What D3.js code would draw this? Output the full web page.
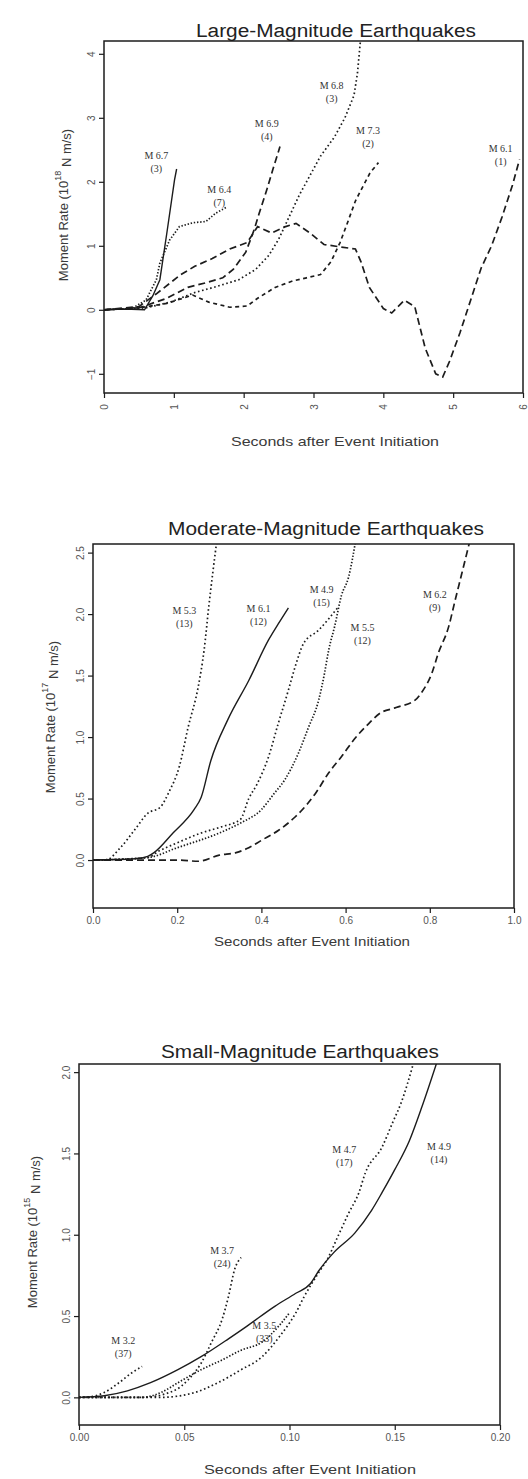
<!DOCTYPE html>
<html>
<head>
<meta charset="utf-8">
<script src="https://cdn.jsdelivr.net/npm/d3@7"></script>
<style>
  body { margin: 0; background: #fff; }
  svg { display: block; }
</style>
</head>
<body>
<svg id="chart" width="528" height="1479"></svg>
<script>
// ---- large-magnitude events (s, 10^18 N m/s)
var large_m67 = [[0,0],[0.3,0.01],[0.58,0.0],[0.7,0.22],[0.8,0.47],[0.9,1.2],[1.01,2.03],[1.04,2.2]];
var large_m64 = [[0,0],[0.4,0.02],[0.6,0.15],[0.75,0.47],[0.8,0.73],[0.94,1.09],[1.08,1.3],[1.27,1.36],[1.46,1.38],[1.6,1.51],[1.75,1.6]];
var large_m69 = [[0,0],[0.5,0.03],[0.9,0.18],[1.2,0.35],[1.45,0.42],[1.7,0.5],[1.85,0.63],[2.03,0.9],[2.15,1.25],[2.22,1.5],[2.33,1.87],[2.42,2.2],[2.52,2.55]];
var large_m68 = [[0,0],[0.6,0.03],[0.95,0.12],[1.3,0.27],[1.6,0.36],[1.93,0.47],[2.17,0.63],[2.36,0.85],[2.5,1.1],[2.65,1.45],[2.8,1.8],[2.95,2.1],[3.1,2.4],[3.3,2.7],[3.45,3.0],[3.58,3.35],[3.63,3.7],[3.68,4.3]];
var large_m73 = [[0,0],[0.5,0.03],[0.9,0.1],[1.27,0.23],[1.5,0.12],[1.8,0.04],[2.05,0.06],[2.2,0.18],[2.45,0.35],[2.7,0.45],[2.9,0.5],[3.1,0.55],[3.25,0.75],[3.38,1.05],[3.5,1.4],[3.6,1.7],[3.68,1.87],[3.81,2.14],[3.93,2.3]];
var large_m61 = [[0,0],[0.5,0.05],[0.75,0.25],[1.1,0.55],[1.3,0.68],[1.55,0.8],[1.8,0.95],[2.05,1.05],[2.2,1.3],[2.4,1.2],[2.6,1.3],[2.75,1.35],[2.95,1.2],[3.15,1.02],[3.4,0.98],[3.6,0.95],[3.68,0.75],[3.8,0.35],[4.0,0.02],[4.12,-0.05],[4.3,0.15],[4.45,0.05],[4.6,-0.6],[4.75,-1.0],[4.85,-1.05],[4.95,-0.8],[5.1,-0.35],[5.25,0.15],[5.4,0.65],[5.55,1.0],[5.7,1.45],[5.85,1.95],[5.95,2.35]];
var large_names = ["M 6.7", "M 6.4", "M 6.9", "M 6.8", "M 7.3", "M 6.1"];
var large_counts = ["(3)", "(7)", "(4)", "(3)", "(2)", "(1)"];
var large_xticks = [0, 1, 2, 3, 4, 5, 6];
var large_yticks = [-1, 0, 1, 2, 3, 4];

// ---- moderate-magnitude events (s, 10^17 N m/s)
var mod_m53 = [[0,0],[0.03,0.0],[0.065,0.1],[0.1,0.25],[0.13,0.38],[0.16,0.43],[0.18,0.55],[0.205,0.76],[0.226,1.08],[0.25,1.41],[0.264,1.71],[0.275,2.06],[0.285,2.35],[0.295,2.62]];
var mod_m61 = [[0,0],[0.1,0.01],[0.13,0.03],[0.145,0.06],[0.19,0.22],[0.24,0.41],[0.257,0.51],[0.28,0.81],[0.32,1.14],[0.37,1.46],[0.417,1.79],[0.44,1.92],[0.464,2.05]];
var mod_m49 = [[0,0],[0.13,0.02],[0.155,0.07],[0.2,0.14],[0.257,0.22],[0.305,0.27],[0.35,0.33],[0.37,0.5],[0.39,0.62],[0.417,0.84],[0.44,1.11],[0.464,1.38],[0.48,1.57],[0.5,1.76],[0.536,1.87],[0.583,2.06]];
var mod_m55 = [[0,0],[0.13,0.02],[0.2,0.1],[0.3,0.22],[0.35,0.3],[0.4,0.41],[0.43,0.54],[0.455,0.65],[0.488,0.87],[0.512,1.08],[0.536,1.3],[0.55,1.52],[0.56,1.71],[0.574,1.9],[0.59,2.15],[0.607,2.3],[0.625,2.62]];
var mod_m62 = [[0,0],[0.2,0.0],[0.25,-0.01],[0.3,0.04],[0.34,0.06],[0.37,0.1],[0.4,0.16],[0.44,0.24],[0.48,0.35],[0.51,0.46],[0.53,0.55],[0.56,0.71],[0.59,0.84],[0.62,0.98],[0.655,1.11],[0.68,1.19],[0.72,1.24],[0.765,1.3],[0.78,1.36],[0.805,1.52],[0.82,1.68],[0.845,1.9],[0.86,2.11],[0.876,2.33],[0.897,2.62]];
var mod_names = ["M 5.3", "M 6.1", "M 4.9", "M 5.5", "M 6.2"];
var mod_counts = ["(13)", "(12)", "(15)", "(12)", "(9)"];
var mod_xticks = [0, 0.2, 0.4, 0.6, 0.8, 1.0];
var mod_yticks = [0, 0.5, 1.0, 1.5, 2.0, 2.5];

// ---- small-magnitude events (s, 10^15 N m/s)
var small_m49 = [[0,0],[0.012,0.01],[0.023,0.04],[0.034,0.09],[0.047,0.17],[0.058,0.25],[0.071,0.36],[0.08,0.44],[0.093,0.56],[0.103,0.64],[0.11,0.7],[0.114,0.78],[0.121,0.89],[0.131,1.01],[0.139,1.15],[0.144,1.26],[0.15,1.4],[0.157,1.58],[0.163,1.79],[0.17,2.06]];
var small_m47 = [[0,0],[0.039,0.0],[0.055,0.03],[0.066,0.09],[0.077,0.17],[0.087,0.25],[0.095,0.37],[0.103,0.52],[0.107,0.62],[0.114,0.77],[0.118,0.85],[0.123,0.99],[0.128,1.13],[0.133,1.26],[0.136,1.38],[0.144,1.54],[0.149,1.69],[0.153,1.81],[0.159,2.06]];
var small_m37 = [[0,0],[0.03,0.0],[0.045,0.04],[0.052,0.11],[0.058,0.21],[0.063,0.34],[0.068,0.48],[0.071,0.62],[0.074,0.79],[0.077,0.86]];
var small_m35 = [[0,0],[0.03,0.0],[0.039,0.03],[0.047,0.09],[0.058,0.17],[0.068,0.23],[0.077,0.29],[0.087,0.34],[0.095,0.44],[0.1,0.52]];
var small_m32 = [[0,0],[0.006,0.005],[0.012,0.03],[0.019,0.09],[0.025,0.15],[0.03,0.19]];
var small_names = ["M 4.9", "M 4.7", "M 3.7", "M 3.5", "M 3.2"];
var small_counts = ["(14)", "(17)", "(24)", "(33)", "(37)"];
var small_xticks = [0, 0.05, 0.10, 0.15, 0.20];
var small_yticks = [0, 0.5, 1.0, 1.5, 2.0];

var line_color = "#1c1c1c",
    text_color = "#3a3a3a",
    sans = "'Liberation Sans', Arial, sans-serif",
    serif = "'Liberation Serif', 'Times New Roman', serif";

var dash = {
  solid: null,
  dotted: "1.6,2.6",
  dense: "1.4,1.8",
  dashed: "7,4",
  short: "4,3.5"
};

var panels = [
  {
    title: "Large-Magnitude Earthquakes", titleX: 336, titleY: 37, titleLen: 280,
    left: 104, right: 523, top: 41, bottom: 393,
    xDomain: [0, 6], yDomain: [-1.3, 4.2],
    xticks: large_xticks, yticks: large_yticks, xfmt: d3.format("d"), yfmt: d3.format("d"),
    rotateX: true, xTitleY: 446, xTitleX: 335, xTitleLen: 208,
    yTitleX: 68, yTitleY: 205, exp: "18", curve: d3.curveLinear,
    series: [
      {d: large_m67, s: "solid", at: [0.75, 2.36]},
      {d: large_m64, s: "dense", at: [1.65, 1.83]},
      {d: large_m69, s: "dashed", at: [2.33, 2.86]},
      {d: large_m68, s: "dotted", at: [3.26, 3.45]},
      {d: large_m73, s: "short", at: [3.78, 2.75]},
      {d: large_m61, s: "dashed", at: [5.68, 2.47]}
    ],
    names: large_names, counts: large_counts
  },
  {
    title: "Moderate-Magnitude Earthquakes", titleX: 326, titleY: 535, titleLen: 316,
    left: 93, right: 514, top: 544, bottom: 908,
    xDomain: [0, 1.0], yDomain: [-0.39, 2.57],
    xticks: mod_xticks, yticks: mod_yticks, xfmt: d3.format(".1f"), yfmt: d3.format(".1f"),
    rotateX: false, xTitleY: 946, xTitleX: 312, xTitleLen: 196,
    yTitleX: 55, yTitleY: 717, exp: "17", curve: d3.curveMonotoneX,
    series: [
      {d: mod_m53, s: "dotted", at: [0.217, 2.0]},
      {d: mod_m61, s: "solid", at: [0.393, 2.02]},
      {d: mod_m49, s: "dotted", at: [0.543, 2.17]},
      {d: mod_m55, s: "dense", at: [0.64, 1.86]},
      {d: mod_m62, s: "dashed", at: [0.812, 2.13]}
    ],
    names: mod_names, counts: mod_counts
  },
  {
    title: "Small-Magnitude Earthquakes", titleX: 300, titleY: 1058, titleLen: 278,
    left: 79, right: 500, top: 1064, bottom: 1425,
    xDomain: [0, 0.2], yDomain: [-0.17, 2.05],
    xticks: small_xticks, yticks: small_yticks, xfmt: d3.format(".2f"), yfmt: d3.format(".1f"),
    rotateX: false, xTitleY: 1474, xTitleX: 310, xTitleLen: 212,
    yTitleX: 37, yTitleY: 1232, exp: "15", curve: d3.curveMonotoneX,
    series: [
      {d: small_m49, s: "solid", at: [0.171, 1.52]},
      {d: small_m47, s: "dotted", at: [0.126, 1.5]},
      {d: small_m37, s: "dotted", at: [0.068, 0.88]},
      {d: small_m35, s: "dense", at: [0.088, 0.42]},
      {d: small_m32, s: "dotted", at: [0.021, 0.33]}
    ],
    names: small_names, counts: small_counts
  }
];

var svg = d3.select("#chart");

panels.forEach(drawPanel);

function drawPanel(p, i) {
  var x = d3.scaleLinear().domain(p.xDomain).range([p.left, p.right]),
      y = d3.scaleLinear().domain(p.yDomain).range([p.bottom, p.top]);

  var g = svg.append("g");

  // title
  g.append("text")
      .attr("x", p.titleX).attr("y", p.titleY)
      .attr("text-anchor", "middle")
      .attr("textLength", p.titleLen).attr("lengthAdjust", "spacingAndGlyphs")
      .style("font-family", sans).style("font-size", "18px")
      .attr("fill", "#222")
      .text(p.title);

  // clip for curves
  var clipId = "clip" + i;
  g.append("clipPath").attr("id", clipId)
    .append("rect")
      .attr("x", p.left).attr("y", p.top)
      .attr("width", p.right - p.left).attr("height", p.bottom - p.top);

  // axes
  var xAxis = d3.axisBottom(x).tickValues(p.xticks).tickFormat(p.xfmt).tickSize(5).tickSizeOuter(0);
  var yAxis = d3.axisLeft(y).tickValues(p.yticks).tickFormat(p.yfmt).tickSize(5).tickSizeOuter(0);

  var gx = g.append("g").attr("transform", "translate(0," + p.bottom + ")").call(xAxis);
  var gy = g.append("g").attr("transform", "translate(" + p.left + ",0)").call(yAxis);

  [gx, gy].forEach(function(a) {
    a.select(".domain").remove();
    a.selectAll(".tick line").attr("stroke", line_color).attr("stroke-width", 1.2);
    a.selectAll(".tick text")
        .attr("fill", "#555")
        .style("font-family", sans).style("font-size", "10px");
  });

  gx.selectAll(".tick text").attr("y", 9);
  if (p.rotateX) {
    gx.selectAll(".tick text")
        .attr("transform", "rotate(-90)")
        .attr("x", -14).attr("y", 0).attr("dy", "0.35em")
        .attr("text-anchor", "middle");
  }

  gy.selectAll(".tick text")
      .attr("transform", "rotate(-90)")
      .attr("x", 0).attr("y", -9).attr("dy", 0)
      .attr("text-anchor", "middle");

  // frame
  g.append("rect")
      .attr("x", p.left).attr("y", p.top)
      .attr("width", p.right - p.left).attr("height", p.bottom - p.top)
      .attr("fill", "none")
      .attr("stroke", line_color).attr("stroke-width", 1.5);

  // axis titles
  g.append("text")
      .attr("x", p.xTitleX).attr("y", p.xTitleY)
      .attr("text-anchor", "middle")
      .attr("textLength", p.xTitleLen).attr("lengthAdjust", "spacingAndGlyphs")
      .style("font-family", sans).style("font-size", "13px")
      .attr("fill", text_color)
      .text("Seconds after Event Initiation");

  var yt = g.append("text")
      .attr("transform", "translate(" + p.yTitleX + "," + p.yTitleY + ") rotate(-90)")
      .attr("text-anchor", "middle")
      .style("font-family", sans).style("font-size", "13px")
      .attr("fill", text_color);
  yt.append("tspan").text("Moment Rate  (10");
  yt.append("tspan").attr("dy", "-0.8em").style("font-size", "9px").text(p.exp);
  yt.append("tspan").attr("dy", "0.8em").text("  N m/s)");

  // curves
  var line = d3.line()
      .x(function(d) { return x(d[0]); })
      .y(function(d) { return y(d[1]); })
      .curve(p.curve);

  var curves = g.append("g").attr("clip-path", "url(#" + clipId + ")");

  p.series.forEach(function(s) {
    curves.append("path")
        .datum(s.d)
        .attr("d", line)
        .attr("fill", "none")
        .attr("stroke", line_color)
        .attr("stroke-width", s.s === "solid" ? 1.4 : 1.7)
        .attr("stroke-dasharray", dash[s.s]);
  });

  // curve labels
  p.series.forEach(function(s, k) {
    var lbl = g.append("text")
        .attr("x", x(s.at[0])).attr("y", y(s.at[1]))
        .attr("text-anchor", "middle")
        .style("font-family", serif).style("font-size", "10px")
        .attr("fill", "#333");
    lbl.append("tspan").attr("x", x(s.at[0])).text(p.names[k]);
    lbl.append("tspan").attr("x", x(s.at[0])).attr("dy", "1.3em").text(p.counts[k]);
  });
}
</script>
</body>
</html>
